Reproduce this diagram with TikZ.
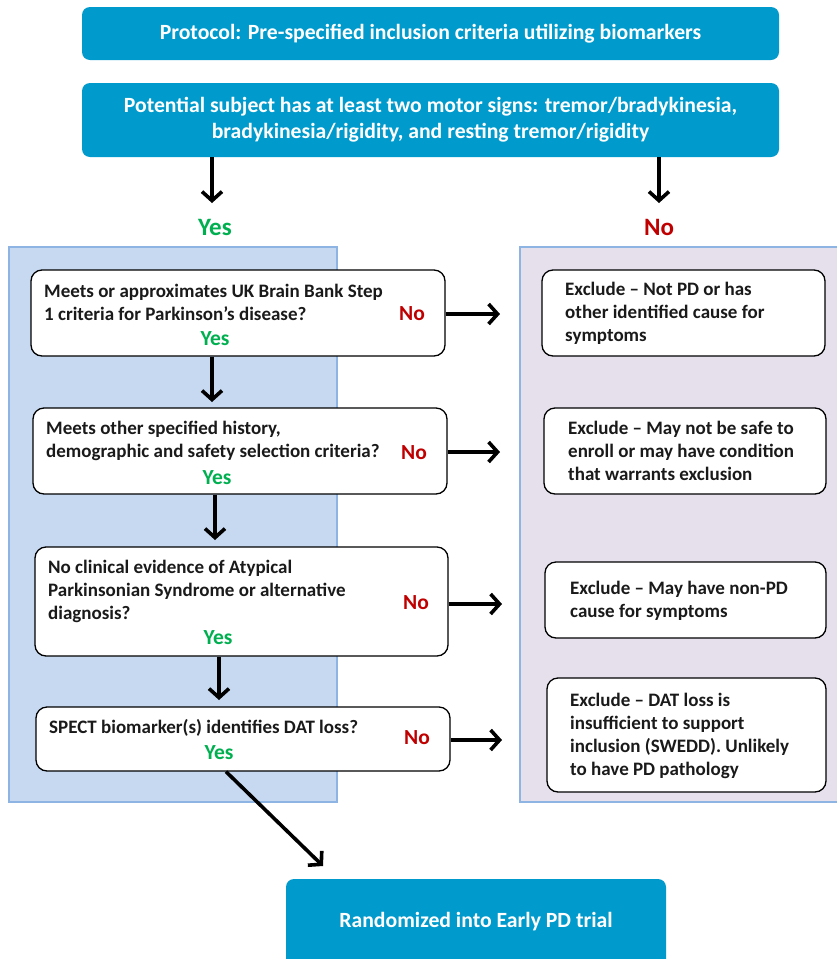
\documentclass[tikz,border=0pt]{standalone}
\usepackage{fontspec}
\setmainfont{Carlito}
\usetikzlibrary{arrows.meta}
\definecolor{topblue}{RGB}{0,155,204}
\definecolor{lpanel}{RGB}{198,217,240}
\definecolor{rpanel}{RGB}{229,224,236}
\definecolor{pborder}{RGB}{142,180,227}
\definecolor{yesgreen}{RGB}{0,176,80}
\definecolor{nored}{RGB}{192,0,0}
\definecolor{txt}{RGB}{26,26,26}
\tikzset{
  x=1pt,y=-1pt,
  every node/.style={font=\bfseries\fontsize{19}{23}\selectfont},
  hdr/.style={fill=topblue,rounded corners=8pt,draw=none},
  qbox/.style={draw=black,line width=1.3pt,fill=white,rounded corners=11pt},
  panel/.style={draw=pborder,line width=1.5pt},
  qtext/.style={align=left,anchor=west,inner sep=0pt,text=txt},
  wtext/.style={align=center,text=white,inner sep=0pt,font=\bfseries\fontsize{21.7}{26}\selectfont},
  yeslab/.style={text=yesgreen,inner sep=0pt,font=\bfseries\fontsize{21.5}{25}\selectfont},
  nolab/.style={text=nored,inner sep=0pt,font=\bfseries\fontsize{21.5}{25}\selectfont},
  bigyes/.style={text=yesgreen,inner sep=0pt,font=\bfseries\fontsize{25}{29}\selectfont},
  bigno/.style={text=nored,inner sep=0pt,font=\bfseries\fontsize{25}{29}\selectfont},
  arr/.style={-{Straight Barb[length=9pt,width=20pt,line width=3.6pt]},line width=3.6pt,black},
}
\begin{document}
\begin{tikzpicture}
\useasboundingbox (0,0) rectangle (837,959);
\clip (0,0) rectangle (837,959);
% header boxes
\path[hdr] (82,7) rectangle (779,60);
\node[wtext] (h1) at (430.5,34) {Protocol: Pre-specified inclusion criteria utilizing biomarkers};
\path[hdr] (82,83) rectangle (779,157);
\node[wtext] (h2) at (430.5,120) {Potential subject has at least two motor signs: tremor/bradykinesia,\\bradykinesia/rigidity, and resting tremor/rigidity};
\coordinate (h2l) at (212,157);
\coordinate (h2r) at (659,157);
\coordinate (yesend) at (212,203);
\coordinate (noend) at (659,203);
\draw[arr] (h2l) -- (yesend);
\draw[arr] (h2r) -- (noend);
\node[bigyes] (yestop) at (215,227) {Yes};
\node[bigno] (notop) at (659,227) {No};
% panels
\path[panel,fill=lpanel] (9,247) rectangle (337,802);
\path[panel,fill=rpanel] (520,247) rectangle (845,802);
% question boxes
\node[qbox,minimum width=414pt,minimum height=86pt,inner sep=0pt] (q1) at (238,313) {};
\node[qtext] (q1t) at (44,302.5) {Meets or approximates UK Brain Bank Step\\1 criteria for Parkinson’s disease?};
\node[nolab] (q1n) at (412,314) {No};
\node[yeslab] (q1y) at (215,339) {Yes};

\node[qbox,minimum width=414pt,minimum height=86pt,inner sep=0pt] (q2) at (240,451) {};
\node[qtext] (q2t) at (46,441) {Meets other specified history,\\demographic and safety selection criteria?};
\node[nolab] (q2n) at (414,453) {No};
\node[yeslab] (q2y) at (217,478) {Yes};

\node[qbox,minimum width=413pt,minimum height=109pt,inner sep=0pt] (q3) at (241.5,601.5) {};
\node[qtext] (q3t) at (48,591) {No clinical evidence of Atypical\\Parkinsonian Syndrome or alternative\\diagnosis?};
\node[nolab] (q3n) at (416,603) {No};
\node[yeslab] (q3y) at (218,638) {Yes};

\node[qbox,minimum width=414pt,minimum height=64pt,inner sep=0pt] (q4) at (243,739) {};
\node[qtext] (q4t) at (49,728) {SPECT biomarker(s) identifies DAT loss?};
\node[nolab] (q4n) at (417,738) {No};
\node[yeslab] (q4y) at (219,753) {Yes};

% exclude boxes
\node[qbox,minimum width=283pt,minimum height=86pt,inner sep=0pt] (e1) at (683.5,313) {};
\node[qtext] (e1t) at (565,313.5) {Exclude -- Not PD or has\\other identified cause for\\symptoms};
\node[qbox,minimum width=282pt,minimum height=86pt,inner sep=0pt] (e2) at (685,451) {};
\node[qtext] (e2t) at (568,451) {Exclude -- May not be safe to\\enroll or may have condition\\that warrants exclusion};
\node[qbox,minimum width=281pt,minimum height=76pt,inner sep=0pt] (e3) at (685.5,600) {};
\node[qtext] (e3t) at (570,600.5) {Exclude -- May have non-PD\\cause for symptoms};
\node[qbox,minimum width=279pt,minimum height=114pt,inner sep=0pt] (e4) at (686.5,735) {};
\node[qtext] (e4t) at (570,735.5) {Exclude -- DAT loss is\\insufficient to support\\inclusion (SWEDD). Unlikely\\to have PD pathology};

% vertical arrows
\draw[arr] (q1.south -| 212,0) -- (212,402);
\draw[arr] (q2.south -| 215,0) -- (215,540);
\draw[arr] (q3.south -| 219,0) -- (219,700);
% right arrows
\draw[arr] (q1.east |- 0,314) -- (500,314);
\draw[arr] (q2.east |- 0,452) -- (500,452);
\draw[arr] (q3.east |- 0,604) -- (502,604);
\draw[arr] (q4.east |- 0,740) -- (502,740);

% final box
\node[hdr,minimum width=380pt,minimum height=96pt,inner sep=0pt] (fin) at (476,927) {};
\node[wtext] (fint) at (476,922) {Randomized into Early PD trial};
\coordinate (diagtip) at (323,866);
\draw[arr] (q4.south -| 226,0) -- (diagtip);
\end{tikzpicture}
\end{document}
